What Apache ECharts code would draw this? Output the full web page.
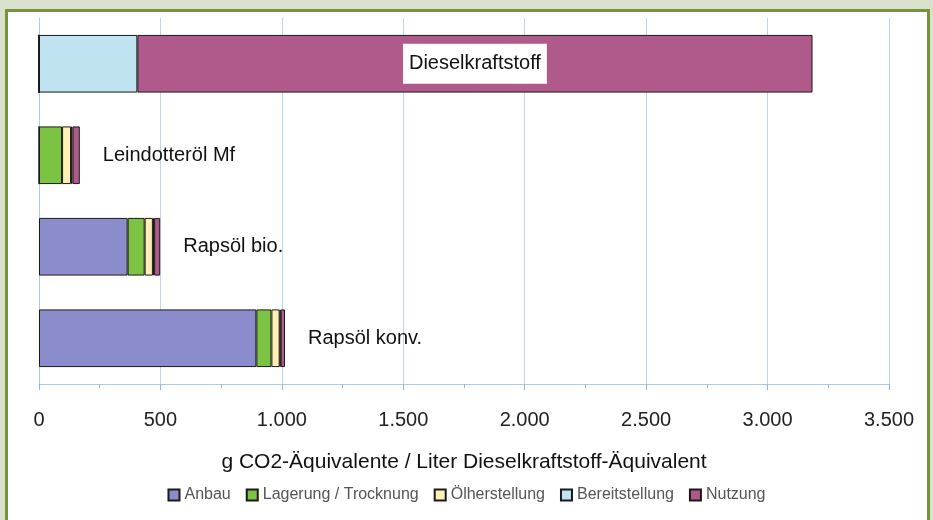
<!DOCTYPE html>
<html>
<head>
<meta charset="utf-8">
<script src="https://cdn.jsdelivr.net/npm/echarts@6/dist/echarts.min.js"></script>
<style>
  html, body { margin: 0; padding: 0; }
  body { width: 933px; height: 520px; background: #d9e1cc; position: relative; overflow: hidden; }
  #frame { position: absolute; left: 5px; top: 9px; width: 919px; height: 520px; border: 3px solid #77933c; background: #fff; }
  #main { position: absolute; left: 0; top: 0; width: 933px; height: 520px; }
</style>
</head>
<body>
<div id="frame"></div>
<div id="main"></div>
<script>
  // Kategorien (von oben nach unten)
  var kategorien = ['Dieselkraftstoff', 'Leindotteröl Mf', 'Rapsöl bio.', 'Rapsöl konv.'];
  var anbau = [0, 0, 365, 895];
  var lagerung = [0, 95, 70, 62];
  var oelherstellung = [0, 37, 34, 34];
  var bereitstellung = [405, 6, 5, 4];
  var nutzung = [2780, 30, 25, 18];
  var xTicks = ['0', '500', '1.000', '1.500', '2.000', '2.500', '3.000', '3.500'];

  var myChart = echarts.init(document.getElementById('main'));

  var rand = { color: '#1a1a1a', width: 1 };

  function reihe(name, werte, farbe) {
    return {
      name: name,
      type: 'bar',
      stack: 'summe',
      barWidth: '63%',
      itemStyle: { color: farbe, borderColor: rand.color, borderWidth: rand.width },
      data: werte
    };
  }

  var nutzungReihe = reihe('Nutzung', nutzung.map(function (v, i) {
    if (i === 0) {
      return {
        value: v,
        label: {
          show: true,
          position: 'inside',
          formatter: kategorien[0],
          backgroundColor: '#fff',
          color: '#111',
          fontSize: 20,
          padding: [10, 6]
        }
      };
    }
    return v;
  }), '#b05a8c');
  nutzungReihe.label = {
    show: true,
    position: 'right',
    distance: 23,
    color: '#111',
    fontSize: 20,
    formatter: function (p) { return kategorien[p.dataIndex]; }
  };

  var option = {
    animation: false,
    textStyle: { fontFamily: 'Liberation Sans' },
    grid: { left: 39, right: 44, top: 18, bottom: 136 },
    legend: {
      bottom: 12,
      left: 'center',
      itemWidth: 11,
      itemHeight: 11,
      itemGap: 15,
      icon: 'rect',
      textStyle: { color: '#555', fontSize: 16 },
      data: ['Anbau', 'Lagerung / Trocknung', 'Ölherstellung', 'Bereitstellung', 'Nutzung']
    },
    xAxis: {
      type: 'value',
      min: 0,
      max: 3500,
      interval: 500,
      name: 'g CO2-Äquivalente / Liter Dieselkraftstoff-Äquivalent',
      nameLocation: 'middle',
      nameGap: 68,
      nameTextStyle: { color: '#111', fontSize: 21 },
      axisLine: { show: true, lineStyle: { color: '#a9cde6' } },
      axisTick: { show: true, length: 6, lineStyle: { color: '#8fb8d6' } },
      minorTick: { show: true, splitNumber: 2, length: 4, lineStyle: { color: '#8fb8d6' } },
      axisLabel: {
        color: '#222',
        fontSize: 20,
        margin: 26,
        formatter: function (v) { return xTicks[v / 500]; }
      },
      splitLine: { show: true, lineStyle: { color: '#b8d7ec' } }
    },
    yAxis: {
      type: 'category',
      inverse: true,
      data: kategorien,
      axisLabel: { show: false },
      axisTick: { show: false },
      axisLine: { show: true, lineStyle: { color: '#a9cde6' } },
      splitLine: { show: false }
    },
    series: [
      reihe('Anbau', anbau, '#8a8ccc'),
      reihe('Lagerung / Trocknung', lagerung, '#7cc243'),
      reihe('Ölherstellung', oelherstellung, '#fff0b4'),
      reihe('Bereitstellung', bereitstellung, '#bfe3f0'),
      nutzungReihe
    ]
  };

  myChart.setOption(option);
</script>
</body>
</html>
